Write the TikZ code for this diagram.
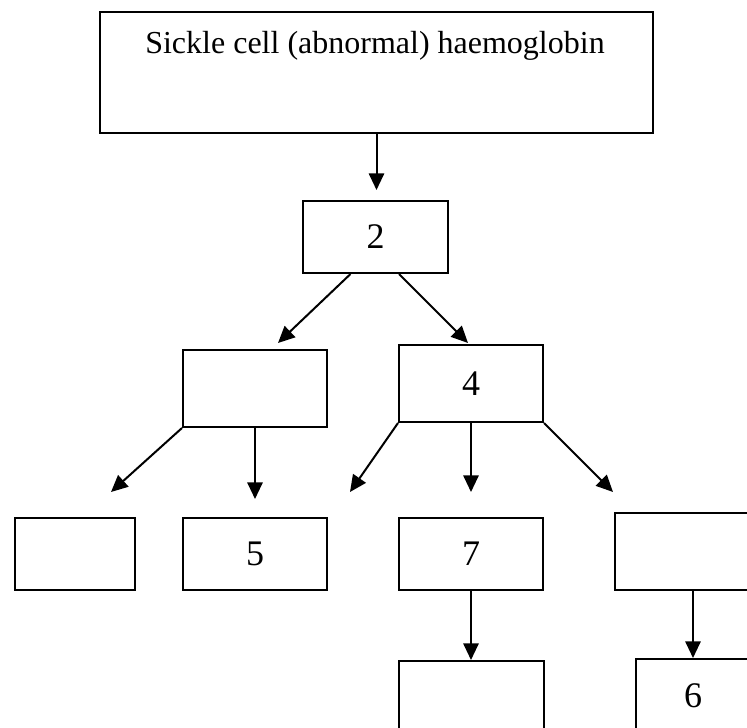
\documentclass[tikz,border=0pt]{standalone}
\usepackage{fontspec}
\setmainfont{Liberation Serif}
\usetikzlibrary{arrows.meta,calc}
\tikzset{
  box/.style 2 args={draw, line width=1.5pt, inner sep=0pt, anchor=north west,
    minimum width=#1*0.75pt, minimum height=#2*0.75pt, font=\fontsize{27}{31}\selectfont},
  lbl/.style={inner sep=0pt, font=\fontsize{24}{28}\selectfont},
  arr/.style={line width=1.5pt, -{Triangle[length=12.5pt,width=11.5pt]}},
}
\begin{document}
\begin{tikzpicture}[x=0.75pt,y=0.75pt,yscale=-1,xscale=1]
\useasboundingbox (0,0) rectangle (747,728);
% Boxes
\node[box={553}{121}] (top) at (99,11) {};
\node[lbl, anchor=base] (toptext) at (375,53) {Sickle cell (abnormal) haemoglobin};
\node[box={145}{72}] (two) at (302,200) {2};
\node[box={144}{77}] (mleft) at (182,349) {};
\node[box={144}{77}] (four) at (398,344) {4};
\node[box={120}{72}] (bleft) at (14,517) {};
\node[box={144}{72}] (five) at (182,517) {5};
\node[box={144}{72}] (seven) at (398,517) {7};
\node[box={156}{77}] (bright) at (614,512) {};
\node[box={145}{74}] (under) at (398,660) {};
\node[box={114}{74}] (six) at (635,658) {6};
% Free arrow ends
\coordinate (e1) at (375,190);
\coordinate (e2) at (278,343);
\coordinate (e3) at (468,343);
\coordinate (e4) at (111,492);
\coordinate (e5) at (254,499);
\coordinate (e6) at (350,492);
\coordinate (e7) at (470,492);
\coordinate (e8) at (613,492);
% Arrows
\draw[arr] (top.south) -- (top.south |- e1);
\draw[arr] ($(two.south west)!0.33!(two.south east)$) -- (e2);
\draw[arr] ($(two.south west)!0.66!(two.south east)$) -- (e3);
\draw[arr] (mleft.south west) -- (e4);
\draw[arr] (mleft.south) -- (mleft.south |- e5);
\draw[arr] (four.south west) -- (e6);
\draw[arr] (four.south) -- (four.south |- e7);
\draw[arr] (four.south east) -- (e8);
\draw[arr] (seven.south) -- (seven.south |- under.north);
\draw[arr] (bright.south) -- (six.north);
\end{tikzpicture}
\end{document}
